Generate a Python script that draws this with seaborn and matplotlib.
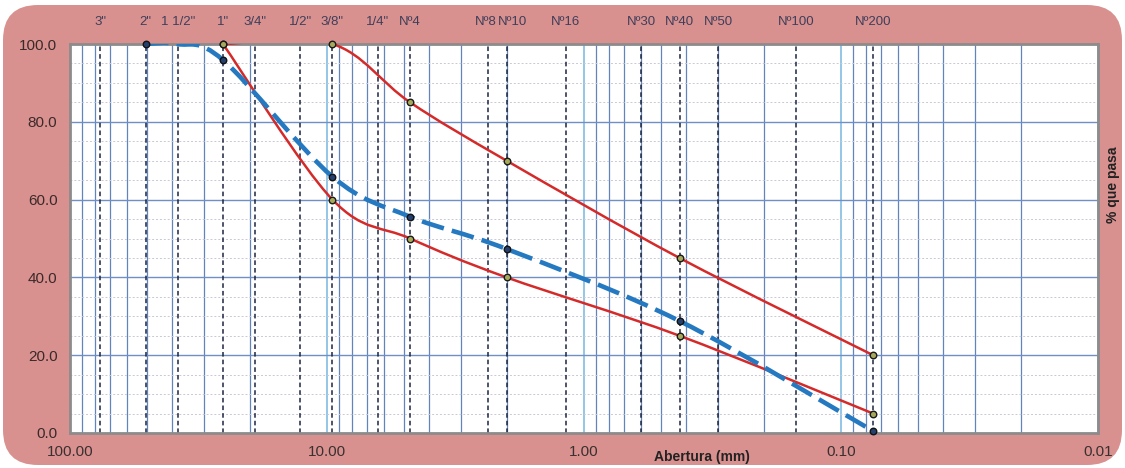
import numpy as np
import matplotlib
matplotlib.use("Agg")
import matplotlib.pyplot as plt
import seaborn as sns
from matplotlib.path import Path
from matplotlib.patches import PathPatch, FancyBboxPatch
from matplotlib.ticker import LogLocator, MultipleLocator, NullFormatter
from matplotlib.transforms import IdentityTransform, blended_transform_factory

# Tamices (etiquetas superiores) y abertura en mm
sieve_labels = ['3"', '2"', '1 1/2"', '1"', '3/4"', '1/2"', '3/8"', '1/4"', 'Nº4',
                'Nº8', 'Nº10', 'Nº16', 'Nº30', 'Nº40', 'Nº50', 'Nº100', 'Nº200']
sieve_mm = [76.2, 50.8, 38.1, 25.4, 19.05, 12.7, 9.525, 6.35, 4.75,
            2.36, 2.0, 1.18, 0.6, 0.425, 0.3, 0.15, 0.075]

# Curva de la muestra (azul discontinua)
sample_mm = [50.8, 38.1, 25.4, 9.525, 4.75, 2.0, 0.425, 0.075]
sample_pass = [100.0, 100.0, 95.9, 65.9, 55.6, 47.3, 28.8, 0.5]
sample_marked = [True, False, True, True, True, True, True, True]

# Limites del huso (rojo)
upper_mm = [25.4, 9.525, 4.75, 2.0, 0.425, 0.075]
upper_pass = [100.0, 100.0, 85.0, 70.0, 45.0, 20.0]
lower_mm = [25.4, 9.525, 4.75, 2.0, 0.425, 0.075]
lower_pass = [100.0, 60.0, 50.0, 40.0, 25.0, 5.0]

x_ticks = [100, 10, 1, 0.1, 0.01]
y_ticks = [0, 20, 40, 60, 80, 100]


def smooth_path(xs, ys):
    # Curva suavizada (estilo Excel) en espacio log-x
    pts = np.column_stack([np.log10(xs), np.asarray(ys, dtype=float)])
    n = len(pts)
    verts = [pts[0]]
    codes = [Path.MOVETO]
    for i in range(n - 1):
        p0 = pts[max(i - 1, 0)]
        p1 = pts[i]
        p2 = pts[i + 1]
        p3 = pts[min(i + 2, n - 1)]
        verts += [p1 + (p2 - p0) / 6, p2 - (p3 - p1) / 6, p2]
        codes += [Path.CURVE4] * 3
    verts = np.array(verts)
    verts[:, 0] = 10 ** verts[:, 0]
    return Path(verts, codes)


sns.set_style("white")
plt.rcParams['font.family'] = ['Liberation Sans', 'DejaVu Sans']

fig = plt.figure(figsize=(11.25, 4.68), dpi=100)
fig.patch.set_facecolor('white')

# Fondo rosado con esquinas redondeadas
bg = FancyBboxPatch((3, 3), 1119, 460, boxstyle='round,pad=0,rounding_size=35',
                    transform=IdentityTransform(), facecolor='#d9918f',
                    edgecolor='none', zorder=-5)
fig.patches.append(bg)

ax = fig.add_axes([70 / 1125, 35 / 468, (1098 - 70) / 1125, (433 - 44) / 468])
ax.set_facecolor('white')
ax.set_xscale('log')
ax.set_xlim(100, 0.01)
ax.set_ylim(0, 100)

ax.set_xticks(x_ticks)
ax.set_xticklabels([f'{v:.2f}' for v in x_ticks])
ax.xaxis.set_minor_locator(LogLocator(base=10, subs=np.arange(2, 10)))
ax.xaxis.set_minor_formatter(NullFormatter())
ax.set_yticks(y_ticks)
ax.set_yticklabels([f'{v:.1f}' for v in y_ticks])
ax.yaxis.set_minor_locator(MultipleLocator(5))
ax.tick_params(which='both', length=0)
ax.tick_params(axis='x', pad=9, labelsize=11, labelcolor='#3a3030')
ax.tick_params(axis='y', pad=9, labelsize=11, labelcolor='#3a2a2a')

ax.grid(which='major', axis='x', color='#8cc2e4', lw=1.3)
ax.grid(which='minor', axis='x', color='#6283bb', lw=0.9)
ax.grid(which='major', axis='y', color='#6f8fc6', lw=1.0)
ax.grid(which='minor', axis='y', color='#c9c9d6', lw=0.7, ls=(0, (2, 2)))
ax.set_axisbelow(True)

for sp in ax.spines.values():
    sp.set_color('#8c8c8c')
    sp.set_linewidth(2)

# Lineas de tamices
for s in sieve_mm:
    ax.axvline(s, color='#1c2540', lw=1.1, ls=(0, (3, 2)), zorder=2)

# Etiquetas de tamices arriba (Nº8 y Nº10 quedan pegadas, como en el original)
trans = blended_transform_factory(ax.transData, ax.transAxes)
mid_8_10 = np.sqrt(2.36 * 2.0)
for lab, s in zip(sieve_labels, sieve_mm):
    pos, ha = s, 'center'
    if lab == 'Nº8':
        pos, ha = mid_8_10 * 1.004, 'right'
    elif lab == 'Nº10':
        pos, ha = mid_8_10 / 1.004, 'left'
    ax.text(pos, 1.057, lab, transform=trans, ha=ha, va='center',
            fontsize=9.5, color='#3e3e5a', clip_on=False)

# Curvas suavizadas
ax.add_patch(PathPatch(smooth_path(upper_mm, upper_pass), fill=False,
                       edgecolor='#d42a2a', lw=1.8, zorder=3))
ax.add_patch(PathPatch(smooth_path(lower_mm, lower_pass), fill=False,
                       edgecolor='#d42a2a', lw=1.8, zorder=3))
ax.add_patch(PathPatch(smooth_path(sample_mm, sample_pass), fill=False,
                       edgecolor='#2479c0', lw=3.3, ls=(0, (5, 1.8)),
                       capstyle='butt', zorder=4))

# Marcadores
sns.scatterplot(x=upper_mm, y=upper_pass, ax=ax, s=22, color='#a6a85a',
                edgecolor='#1a1a1a', linewidth=1.0, zorder=5, clip_on=False)
sns.scatterplot(x=lower_mm, y=lower_pass, ax=ax, s=22, color='#a6a85a',
                edgecolor='#1a1a1a', linewidth=1.0, zorder=5, clip_on=False)
mk_x = [x for x, m in zip(sample_mm, sample_marked) if m]
mk_y = [y for y, m in zip(sample_pass, sample_marked) if m]
sns.scatterplot(x=mk_x, y=mk_y, ax=ax, s=22, color='#24406e',
                edgecolor='#111111', linewidth=1.0, zorder=6, clip_on=False)

ax.set_xlim(100, 0.01)
ax.set_ylim(0, 100)
ax.set_xlabel('')
ax.set_ylabel('')

fig.text(702 / 1125, 1 - 457 / 468, 'Abertura (mm)', ha='center', va='center',
         fontsize=10, fontweight='bold', color='#222222')
fig.text(1113 / 1125, 1 - 185 / 468, '% que pasa', ha='center', va='center',
         rotation=90, fontsize=10, fontweight='bold', color='#222222')

fig.savefig('out.png', dpi=100)
